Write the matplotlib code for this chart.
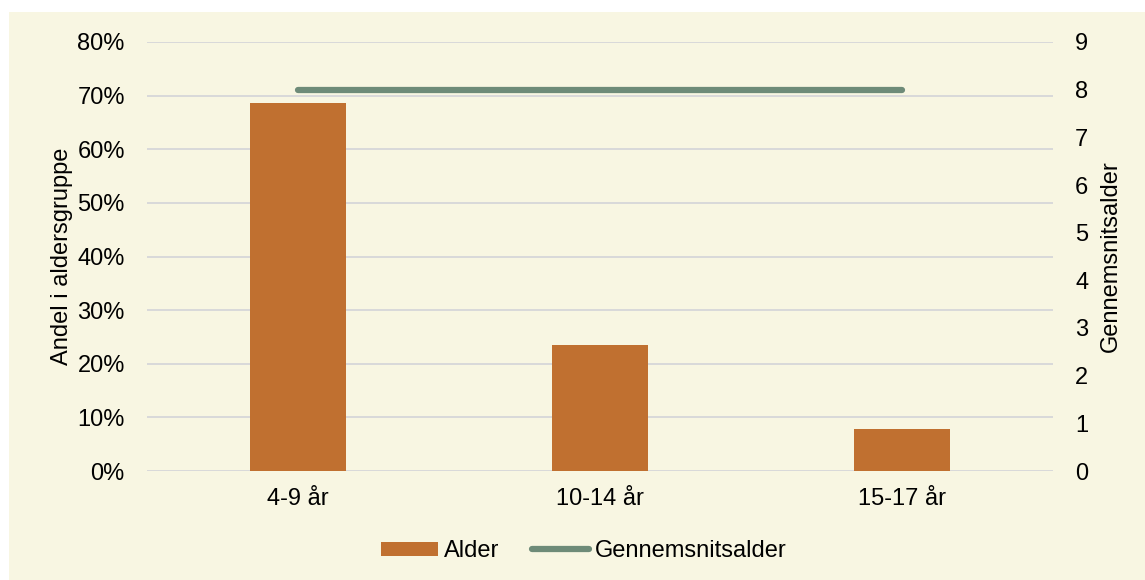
import matplotlib
matplotlib.use("Agg")
import matplotlib.pyplot as plt
from matplotlib.patches import Rectangle, Patch
from matplotlib.lines import Line2D
from matplotlib.ticker import FuncFormatter

categories = ["4-9 år", "10-14 år", "15-17 år"]
share = [0.686, 0.235, 0.078]
avg_age = [8.0, 8.0, 8.0]
left_ticks = [0, 0.1, 0.2, 0.3, 0.4, 0.5, 0.6, 0.7, 0.8]
right_ticks = list(range(0, 10))

BG = "#F8F6E2"
BAR = "#C07030"
LINE = "#6E8B78"
GRID = "#D9D9D9"
FS = 17

plt.rcParams["font.family"] = ["Liberation Sans", "DejaVu Sans"]

fig = plt.figure(figsize=(11.45, 5.8), dpi=100, facecolor="white")
fig.patches.append(Rectangle((9 / 1145, 0), 1 - 9 / 1145, 1 - 12 / 580,
                             transform=fig.transFigure, facecolor=BG,
                             edgecolor="none", zorder=-10))

ax = fig.add_axes([147 / 1145, 1 - 471 / 580, (1053 - 147) / 1145, (471 - 42) / 580])
ax.set_facecolor("none")
x = range(len(categories))
ax.bar(x, share, width=0.315, color=BAR, zorder=3)
ax.set_xlim(-0.5, 2.5)
ax.set_ylim(0, 0.8)
ax.set_yticks(left_ticks)
ax.yaxis.set_major_formatter(FuncFormatter(lambda v, p: f"{v*100:.0f}%"))
ax.grid(axis="y", color=GRID, linewidth=1.4, zorder=0)
ax.set_axisbelow(True)
ax.set_xticks(list(x))
ax.set_xticklabels(categories)
ax.tick_params(axis="both", length=0, labelsize=FS, colors="black")
ax.tick_params(axis="y", pad=16)
ax.tick_params(axis="x", pad=12)
for s in ax.spines.values():
    s.set_visible(False)
ax.set_ylabel("Andel i aldersgruppe", fontsize=FS, labelpad=3)

ax2 = ax.twinx()
ax2.plot(list(x), avg_age, color=LINE, linewidth=4.5, solid_capstyle="round", zorder=4)
ax2.set_ylim(0, 9)
ax2.set_yticks(right_ticks)
ax2.tick_params(axis="y", length=0, labelsize=FS, pad=16)
for s in ax2.spines.values():
    s.set_visible(False)
ax2.set_ylabel("Gennemsnitsalder", fontsize=FS, rotation=90, labelpad=8)

handles = [Patch(facecolor=BAR, edgecolor="none"),
           Line2D([0], [0], color=LINE, linewidth=4.5, solid_capstyle="round")]
fig.legend(handles, ["Alder", "Gennemsnitsalder"], loc="center",
           bbox_to_anchor=(0.51, 1 - 551 / 580), ncol=2, frameon=False,
           fontsize=FS, handlelength=2.4, handleheight=0.55, handletextpad=0.25,
           columnspacing=1.4)

fig.savefig("out.png", dpi=100, facecolor="white")
